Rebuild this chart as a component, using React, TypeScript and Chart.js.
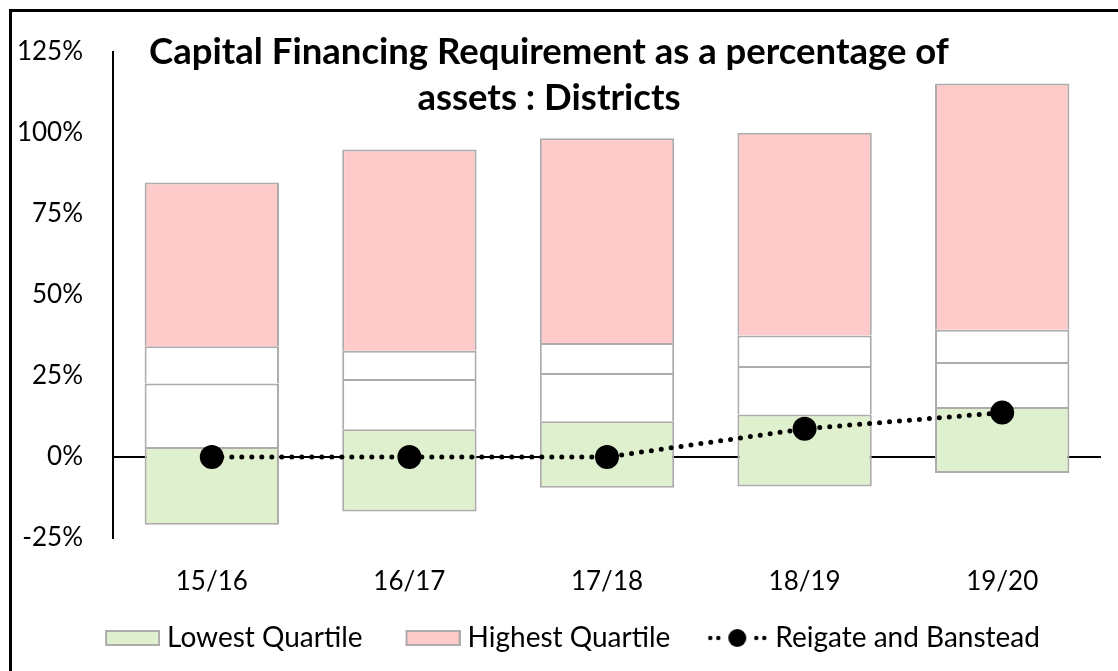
import React, { useEffect, useRef } from 'react';
import { Chart, registerables } from 'chart.js';

Chart.register(...registerables);

// ---- Data (percent values) ----
const categories = ['15/16', '16/17', '17/18', '18/19', '19/20'];
const minValues = [-20.9, -16.8, -9.5, -9.1, -4.9];
const q1Values = [3.1, 8.6, 11.0, 13.1, 15.4];
const medianValues = [22.7, 24.1, 25.9, 28.1, 29.3];
const q3Values = [34.2, 32.8, 35.2, 37.5, 39.3];
const maxValues = [84.7, 94.9, 98.4, 100.1, 115.3];
const reigateValues = [0, 0, 0, 8.7, 13.7];

const yMin = -25;
const yMax = 125;
const yStep = 25;

const titleLines = ['Capital Financing Requirement as a percentage of', 'assets : Districts'];
const legendLabels = ['Lowest Quartile', 'Highest Quartile', 'Reigate and Banstead'];

// ---- Styles ----
const FONT = 'Lato';
const GREEN = '#DFF0CF';
const PINK = '#FFCACA';
const WHITE = '#FFFFFF';
const GREY = '#AFABAB';
const BLACK = '#000000';

const PAD_LEFT = 11;
const PAD_RIGHT = 17;
const LEGEND_BOX = 81;
const LEGEND_FONT = 28;

function makeRectImage(fill: string): HTMLCanvasElement {
  const c = document.createElement('canvas');
  const w = LEGEND_BOX + 14;
  c.width = w;
  c.height = 18;
  const g = c.getContext('2d')!;
  g.fillStyle = GREY;
  g.fillRect(w - 55, 1, 55, 16);
  g.fillStyle = fill;
  g.fillRect(w - 53, 3, 51, 12);
  return c;
}

function makeLineImage(): HTMLCanvasElement {
  const c = document.createElement('canvas');
  const w = LEGEND_BOX + 14;
  c.width = w;
  c.height = 24;
  const g = c.getContext('2d')!;
  g.fillStyle = BLACK;
  const dots = [w - 58, w - 50, w - 12, w - 4];
  dots.forEach((x) => {
    g.beginPath();
    g.arc(x, 12, 2.2, 0, Math.PI * 2);
    g.fill();
  });
  g.beginPath();
  g.arc(w - 31, 12, 9, 0, Math.PI * 2);
  g.fill();
  return c;
}

const titlePlugin = {
  id: 'overlayTitle',
  afterDraw(chart: any) {
    const ctx = chart.ctx;
    ctx.save();
    ctx.font = `bold 36.5px ${FONT}`;
    ctx.fillStyle = BLACK;
    ctx.textAlign = 'center';
    ctx.textBaseline = 'middle';
    titleLines.forEach((t, i) => ctx.fillText(t, 549, 52 + i * 46));
    ctx.restore();
  },
};

export default function App() {
  const canvasRef = useRef<HTMLCanvasElement | null>(null);

  useEffect(() => {
    if (!canvasRef.current) return;
    const pairs = (a: number[], b: number[]) => a.map((v, i) => [v, b[i]]);
    const greenImg = makeRectImage(GREEN);
    const pinkImg = makeRectImage(PINK);
    const lineImg = makeLineImage();

    const barCommon = {
      type: 'bar' as const,
      borderColor: GREY,
      borderSkipped: false,
      barPercentage: 0.68,
      categoryPercentage: 1,
      order: 1,
    };

    const chart = new Chart(canvasRef.current, {
      type: 'bar',
      data: {
        labels: categories,
        datasets: [
          {
            ...barCommon,
            label: legendLabels[0],
            data: pairs(minValues, q1Values),
            backgroundColor: GREEN,
            borderWidth: { top: 2, bottom: 2, left: 2, right: 2 },
          },
          {
            ...barCommon,
            label: 'Q1-Median',
            data: pairs(q1Values, medianValues),
            backgroundColor: WHITE,
            borderWidth: { top: 2, bottom: 0, left: 2, right: 2 },
          },
          {
            ...barCommon,
            label: 'Median-Q3',
            data: pairs(medianValues, q3Values),
            backgroundColor: WHITE,
            borderWidth: { top: 2, bottom: 0, left: 2, right: 2 },
          },
          {
            ...barCommon,
            label: legendLabels[1],
            data: pairs(q3Values, maxValues),
            backgroundColor: PINK,
            borderWidth: { top: 2, bottom: 0, left: 2, right: 2 },
          },
          {
            type: 'line' as const,
            label: legendLabels[2],
            data: reigateValues,
            borderColor: BLACK,
            borderWidth: 5,
            borderDash: [0, 10],
            borderCapStyle: 'round',
            pointRadius: 12,
            pointHoverRadius: 12,
            pointBackgroundColor: BLACK,
            pointBorderColor: BLACK,
            pointBorderWidth: 0,
            fill: false,
            tension: 0,
            order: 0,
          },
        ] as any,
      },
      options: {
        responsive: false,
        animation: false,
        devicePixelRatio: 1,
        layout: { padding: { left: PAD_LEFT, right: PAD_RIGHT, top: 52, bottom: 9 } },
        plugins: {
          tooltip: { enabled: false },
          title: { display: false },
          legend: {
            position: 'bottom',
            labels: {
              usePointStyle: true,
              pointStyleWidth: LEGEND_BOX,
              padding: 10,
              color: BLACK,
              font: { family: FONT, size: LEGEND_FONT },
              generateLabels: () => [
                { text: legendLabels[0], pointStyle: greenImg, datasetIndex: 0, lineWidth: 0, fillStyle: GREEN, strokeStyle: GREY, hidden: false },
                { text: legendLabels[1], pointStyle: pinkImg, datasetIndex: 3, lineWidth: 0, fillStyle: PINK, strokeStyle: GREY, hidden: false },
                { text: legendLabels[2], pointStyle: lineImg, datasetIndex: 4, lineWidth: 0, fillStyle: BLACK, strokeStyle: BLACK, hidden: false },
              ] as any,
            },
          },
        },
        scales: {
          x: {
            stacked: true,
            grid: { display: false },
            border: { display: false },
            ticks: { color: BLACK, font: { family: FONT, size: 26 }, padding: 20 },
            afterFit: (s: any) => {
              s.height = 76;
            },
          },
          y: {
            stacked: false,
            min: yMin,
            max: yMax,
            ticks: {
              stepSize: yStep,
              color: BLACK,
              font: { family: FONT, size: 26 },
              padding: 30,
              callback: (v: any) => `${v}%`,
            },
            grid: {
              drawTicks: false,
              lineWidth: 2,
              color: (c: any) => (c.tick && c.tick.value === 0 ? BLACK : 'rgba(0,0,0,0)'),
            },
            border: { display: true, color: BLACK, width: 2 },
            afterFit: (s: any) => {
              s.width = 113 - PAD_LEFT;
            },
          },
        },
      } as any,
      plugins: [titlePlugin],
    });
    return () => chart.destroy();
  }, []);

  return (
    <div style={{ position: 'fixed', left: 0, top: 0, width: 1118, height: 671, overflow: 'hidden', background: '#fff' }}>
      <div
        style={{
          position: 'absolute',
          left: 9,
          top: 9,
          width: 1200,
          height: 800,
          borderTop: '3px solid #000',
          borderLeft: '3px solid #000',
        }}
      />
      <canvas ref={canvasRef} width={1118} height={671} style={{ position: 'absolute', left: 0, top: 0 }} />
    </div>
  );
}
